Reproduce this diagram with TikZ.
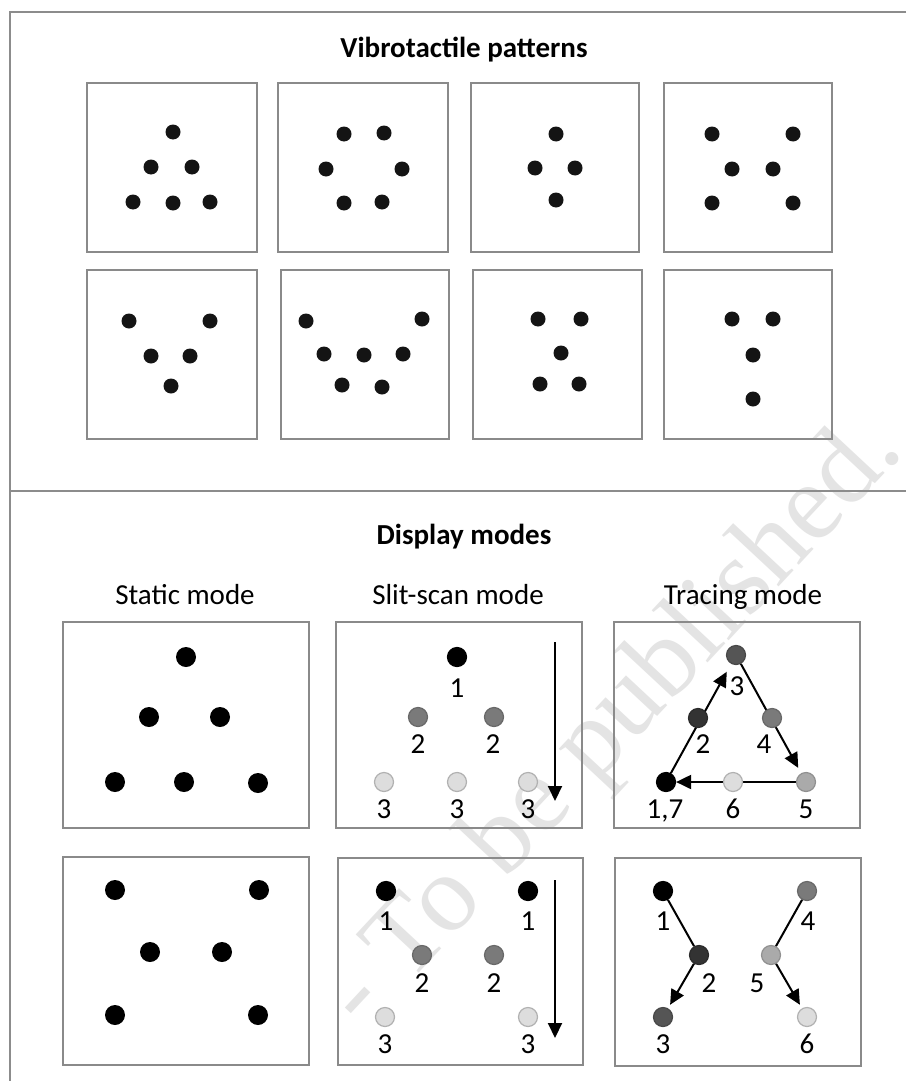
\documentclass[tikz,border=0pt]{standalone}
\usepackage{fontspec}
\setmainfont{Carlito}
\newfontfamily\wmfont{Liberation Serif}
\usetikzlibrary{arrows.meta,backgrounds}
\definecolor{boxgray}{HTML}{8A8A8A}
\definecolor{linegray}{HTML}{8C8C8C}
\definecolor{dotblack}{HTML}{141414}
\definecolor{cA}{HTML}{333333}
\definecolor{cB}{HTML}{555555}
\definecolor{cC}{HTML}{7A7A7A}
\definecolor{cD}{HTML}{AAAAAA}
\definecolor{cE}{HTML}{DDDDDD}
\definecolor{wmgray}{HTML}{E4E4E4}
\tikzset{
  boxline/.style={draw=boxgray,line width=2.5pt},
  frameline/.style={draw=linegray,line width=1.5pt},
  pdot/.style={circle,inner sep=0pt,minimum size=15pt,fill=dotblack},
  bdot/.style={circle,inner sep=0pt,minimum size=20pt,fill=black},
  mdot/.style={circle,inner sep=0pt,minimum size=19pt,line width=1.2pt},
  ttl/.style={inner sep=0pt,anchor=base,font=\fontsize{29}{34}\selectfont},
  lbl/.style={inner sep=0pt,anchor=base,font=\fontsize{29}{34}\selectfont},
  arr/.style={line width=2pt,-{Triangle[length=15pt,width=14pt]}},
  plainln/.style={line width=2pt},
  wm/.style={inner sep=0pt,text=wmgray,font=\wmfont\fontsize{110}{120}\selectfont}
}
\begin{document}
\begin{tikzpicture}[x=1pt,y=-1pt]
\useasboundingbox (0,0) rectangle (906,1081);
\begin{scope}[on background layer]
  \fill[white] (0,0) rectangle (906,1081);
  \node[wm,anchor=base east,rotate=47] (wmark) at (905,452) {- To be published.};
\end{scope}
% outer frame
\draw[frameline] (906,12) -- (10,12) -- (10,1081);
\draw[frameline] (10,491) -- (906,491);
% titles
\node[ttl] (title1) at (464,57) {\bfseries Vibrotactile patterns};
\node[ttl] (title2) at (464,544) {\bfseries Display modes};
\node[ttl] (hStatic) at (185,604) {Static mode};
\node[ttl] (hSlit) at (458,604) {Slit-scan mode};
\node[ttl] (hTrace) at (743,604) {Tracing mode};
% pattern boxes row 1
\draw[boxline] (87,83) rectangle (257,252);
\draw[boxline] (278,83) rectangle (448,252);
\draw[boxline] (471,83) rectangle (639,252);
\draw[boxline] (664,83) rectangle (832,252);
% pattern boxes row 2
\draw[boxline] (87,270) rectangle (257,439);
\draw[boxline] (281,270) rectangle (449,439);
\draw[boxline] (473,270) rectangle (642,439);
\draw[boxline] (664,270) rectangle (832,439);
% pattern 1
\node[pdot] (a1) at (173,132) {};
\node[pdot] (a2) at (151,167) {};
\node[pdot] (a3) at (192,167) {};
\node[pdot] (a4) at (133,202) {};
\node[pdot] (a5) at (173,203) {};
\node[pdot] (a6) at (210,202) {};
% pattern 2
\node[pdot] (b1) at (344,134) {};
\node[pdot] (b2) at (384,133) {};
\node[pdot] (b3) at (326,169) {};
\node[pdot] (b4) at (402,169) {};
\node[pdot] (b5) at (344,203) {};
\node[pdot] (b6) at (382,202) {};
% pattern 3
\node[pdot] (c1) at (556,134) {};
\node[pdot] (c2) at (535,168) {};
\node[pdot] (c3) at (575,168) {};
\node[pdot] (c4) at (556,200) {};
% pattern 4
\node[pdot] (d1) at (712,134) {};
\node[pdot] (d2) at (793,134) {};
\node[pdot] (d3) at (732,169) {};
\node[pdot] (d4) at (773,169) {};
\node[pdot] (d5) at (712,203) {};
\node[pdot] (d6) at (793,203) {};
% pattern 5
\node[pdot] (e1) at (129,321) {};
\node[pdot] (e2) at (210,321) {};
\node[pdot] (e3) at (151,356) {};
\node[pdot] (e4) at (190,356) {};
\node[pdot] (e5) at (171,386) {};
% pattern 6
\node[pdot] (f1) at (306,321) {};
\node[pdot] (f2) at (422,319) {};
\node[pdot] (f3) at (324,354) {};
\node[pdot] (f4) at (364,355) {};
\node[pdot] (f5) at (403,354) {};
\node[pdot] (f6) at (342,385) {};
\node[pdot] (f7) at (382,387) {};
% pattern 7
\node[pdot] (g1) at (538,319) {};
\node[pdot] (g2) at (581,319) {};
\node[pdot] (g3) at (561,353) {};
\node[pdot] (g4) at (540,384) {};
\node[pdot] (g5) at (579,384) {};
% pattern 8
\node[pdot] (h1) at (732,319) {};
\node[pdot] (h2) at (773,319) {};
\node[pdot] (h3) at (753,355) {};
\node[pdot] (h4) at (753,399) {};
% display mode boxes
\draw[boxline] (63,622) rectangle (309,828);
\draw[boxline] (336,622) rectangle (582,828);
\draw[boxline] (614,622) rectangle (860,828);
\draw[boxline] (63,857) rectangle (309,1065);
\draw[boxline] (338,858) rectangle (583,1065);
\draw[boxline] (615,858) rectangle (861,1066);
% static 1
\node[bdot] (sA1) at (186,657) {};
\node[bdot] (sA2) at (149,717) {};
\node[bdot] (sA3) at (220,717) {};
\node[bdot] (sA4) at (115,782) {};
\node[bdot] (sA5) at (184,782) {};
\node[bdot] (sA6) at (258,783) {};
% static 2
\node[bdot] (sB1) at (115,890) {};
\node[bdot] (sB2) at (259,890) {};
\node[bdot] (sB3) at (150,952) {};
\node[bdot] (sB4) at (222,952) {};
\node[bdot] (sB5) at (115,1015) {};
\node[bdot] (sB6) at (258,1015) {};
% slit-scan 1
\node[mdot,fill=black,draw=black] (kA1) at (457,657) {};
\node[mdot,fill=cC,draw=cC!85!black] (kA2) at (418,717) {};
\node[mdot,fill=cC,draw=cC!85!black] (kA3) at (494,717) {};
\node[mdot,fill=cE,draw=cE!80!black] (kA4) at (384,782) {};
\node[mdot,fill=cE,draw=cE!80!black] (kA5) at (457,782) {};
\node[mdot,fill=cE,draw=cE!80!black] (kA6) at (528,782) {};
\node[lbl] (kAl1) at (457,697) {1};
\node[lbl] (kAl2) at (418,753) {2};
\node[lbl] (kAl3) at (493,753) {2};
\node[lbl] (kAl4) at (384,818) {3};
\node[lbl] (kAl5) at (457,818) {3};
\node[lbl] (kAl6) at (528,818) {3};
\coordinate (kAs) at (555,642);
\coordinate (kAe) at (555,801);
\draw[arr] (kAs) -- (kAe);
% slit-scan 2
\node[mdot,fill=black,draw=black] (kB1) at (386,891) {};
\node[mdot,fill=black,draw=black] (kB2) at (528,891) {};
\node[mdot,fill=cC,draw=cC!85!black] (kB3) at (422,955) {};
\node[mdot,fill=cC,draw=cC!85!black] (kB4) at (494,955) {};
\node[mdot,fill=cE,draw=cE!80!black] (kB5) at (385,1017) {};
\node[mdot,fill=cE,draw=cE!80!black] (kB6) at (528,1017) {};
\node[lbl] (kBl1) at (386,930) {1};
\node[lbl] (kBl2) at (528,930) {1};
\node[lbl] (kBl3) at (422,992) {2};
\node[lbl] (kBl4) at (494,992) {2};
\node[lbl] (kBl5) at (385,1053) {3};
\node[lbl] (kBl6) at (528,1053) {3};
\coordinate (kBs) at (555,880);
\coordinate (kBe) at (555,1038);
\draw[arr] (kBs) -- (kBe);
% tracing 1
\node[mdot,fill=cB,draw=cB!85!black] (tA3) at (736,655) {};
\node[mdot,fill=cA,draw=cA!85!black] (tA2) at (698,718) {};
\node[mdot,fill=cC,draw=cC!85!black] (tA4) at (772,718) {};
\node[mdot,fill=black,draw=black] (tA17) at (666,782) {};
\node[mdot,fill=cE,draw=cE!80!black] (tA6) at (733,782) {};
\node[mdot,fill=cD,draw=cD!85!black] (tA5) at (806,782) {};
\node[lbl] (tAl3) at (737,695) {3};
\node[lbl] (tAl2) at (703,753) {2};
\node[lbl] (tAl4) at (764,753) {4};
\node[lbl] (tAl17) at (665,818) {1,7};
\node[lbl] (tAl6) at (733,818) {6};
\node[lbl] (tAl5) at (806,818) {5};
% tracing 2
\node[mdot,fill=black,draw=black] (tB1) at (663,891) {};
\node[mdot,fill=cA,draw=cA!85!black] (tB2) at (699,955) {};
\node[mdot,fill=cB,draw=cB!85!black] (tB3) at (663,1017) {};
\node[mdot,fill=cC,draw=cC!85!black] (tB4) at (807,891) {};
\node[mdot,fill=cD,draw=cD!85!black] (tB5) at (771,955) {};
\node[mdot,fill=cE,draw=cE!80!black] (tB6) at (807,1017) {};
\node[lbl] (tBl1) at (663,930) {1};
\node[lbl] (tBl2) at (709,992) {2};
\node[lbl] (tBl3) at (663,1053) {3};
\node[lbl] (tBl4) at (808,930) {4};
\node[lbl] (tBl5) at (757,992) {5};
\node[lbl] (tBl6) at (807,1053) {6};
% tracing connectors (under the dots)
\begin{scope}[on background layer]
  \draw[arr,shorten >=9pt] (tA17) -- (tA3);
  \draw[arr,shorten >=6pt] (tA3) -- (tA5);
  \draw[arr] (tA5) -- (tA17);
  \draw[plainln] (tB1) -- (tB2);
  \draw[arr,shorten >=4pt] (tB2) -- (tB3);
  \draw[plainln] (tB4) -- (tB5);
  \draw[arr,shorten >=4pt] (tB5) -- (tB6);
\end{scope}
\end{tikzpicture}
\end{document}
